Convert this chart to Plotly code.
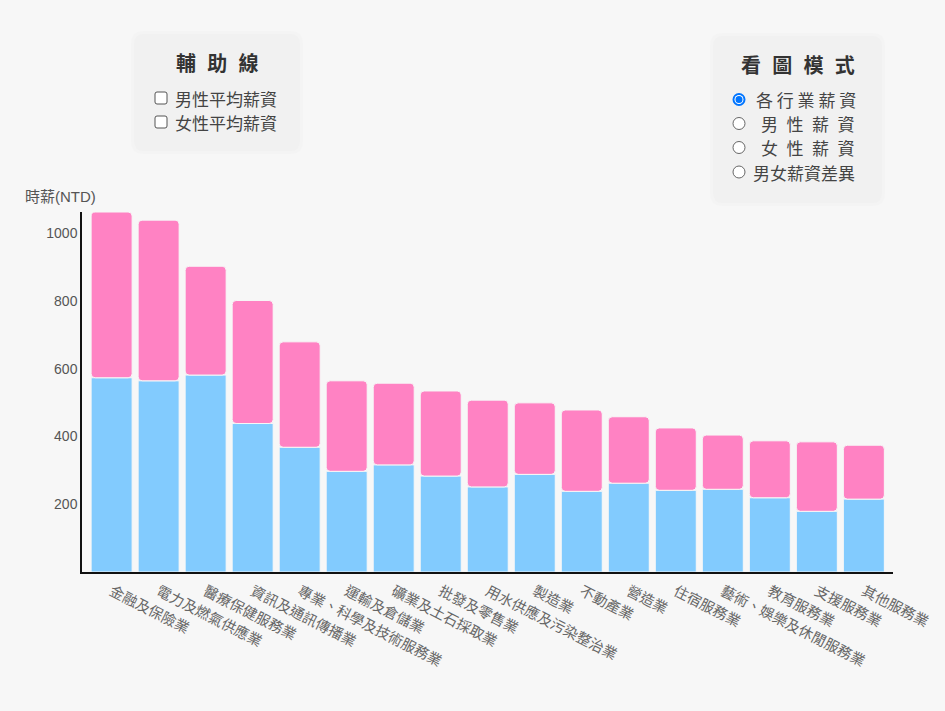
import plotly.graph_objects as go

# hourly wage by industry (NTD) - blue segment from 0, pink segment stacked on top
industries = [
    "金融及保險業", "電力及燃氣供應業", "醫療保健服務業", "資訊及通訊傳播業",
    "專業、科學及技術服務業", "運輸及倉儲業", "礦業及土石採取業", "批發及零售業",
    "用水供應及污染整治業", "製造業", "不動產業", "營造業", "住宿服務業",
    "藝術、娛樂及休閒服務業", "教育服務業", "支援服務業", "其他服務業",
]
blue_wage = [573, 564, 581, 438, 368, 297, 316, 283, 251, 288, 238, 262, 241, 244, 219, 179, 215]
pink_wage = [489, 474, 321, 363, 311, 267, 241, 251, 256, 211, 240, 196, 184, 160, 168, 205, 159]
y_ticks = [200, 400, 600, 800, 1000]

BLUE = "#82cbfe"
PINK = "#ff82c3"
BG = "#f7f7f7"
FONT = "Noto Sans CJK TC, Noto Sans, sans-serif"
NUM_FONT = "Liberation Sans, Noto Sans CJK TC, sans-serif"

# plot-area pixel box, used to place the html-like control panels
PL, PR, PT, PB = 82, 893, 212, 572


def fx(px):
    return (px - PL) / (PR - PL)


def fy(py):
    return (PB - py) / (PB - PT)


def round_rect(x0, y0, x1, y1, r):
    rx, ry = r / (PR - PL), r / (PB - PT)
    a, b, c, d = fx(x0), fx(x1), fy(y1), fy(y0)  # left, right, bottom, top
    return (f"M {a+rx},{d} L {b-rx},{d} Q {b},{d} {b},{d-ry} L {b},{c+ry} "
            f"Q {b},{c} {b-rx},{c} L {a+rx},{c} Q {a},{c} {a},{c+ry} "
            f"L {a},{d-ry} Q {a},{d} {a+rx},{d} Z")


def circle(cx, cy, r, fill, line_color, line_w=1):
    return dict(type="circle", xref="paper", yref="paper",
                x0=fx(cx - r), x1=fx(cx + r), y0=fy(cy + r), y1=fy(cy - r),
                fillcolor=fill, line=dict(color=line_color, width=line_w))


fig = go.Figure()
fig.add_trace(go.Bar(
    x=industries, y=blue_wage, name="blue",
    marker=dict(color=BLUE, cornerradius=4, line=dict(color=BG, width=1)),
))
fig.add_trace(go.Bar(
    x=industries, y=pink_wage, base=blue_wage, name="pink",
    marker=dict(color=PINK, cornerradius=4, line=dict(color=BG, width=1)),
))

shapes = []
annotations = []

# panels
for (x0, y0, x1, y1) in [(134, 34, 300, 151), (713, 36, 882, 203)]:
    shapes.append(dict(type="path", xref="paper", yref="paper",
                       path=round_rect(x0 - 3, y0 - 3, x1 + 3, y1 + 3, 12),
                       fillcolor="rgba(0,0,0,0.012)", line=dict(width=0)))
    shapes.append(dict(type="path", xref="paper", yref="paper",
                       path=round_rect(x0, y0, x1, y1, 10),
                       fillcolor="#f1f1f1", line=dict(width=0)))

annotations.append(dict(xref="paper", yref="paper", x=fx(217.5), y=fy(63),
                        text="<b>輔\u2002\u200a助\u2002\u200a線</b>", showarrow=False,
                        xanchor="center", yanchor="middle",
                        font=dict(size=20, color="#333", family=FONT)))
annotations.append(dict(xref="paper", yref="paper", x=fx(798), y=fy(65),
                        text="<b>看\u2002\u200a圖\u2002\u200a模\u2002\u200a式</b>", showarrow=False,
                        xanchor="center", yanchor="middle",
                        font=dict(size=20, color="#333", family=FONT)))

# checkboxes
for cy, label in [(98, "男性平均薪資"), (122, "女性平均薪資")]:
    shapes.append(dict(type="path", xref="paper", yref="paper",
                       path=round_rect(155, cy - 6, 167, cy + 6, 2),
                       fillcolor="white", line=dict(color="#555", width=1)))
    annotations.append(dict(xref="paper", yref="paper", x=fx(173), y=fy(cy),
                            text=label, showarrow=False, xanchor="left", yanchor="middle",
                            font=dict(size=17, color="#444", family=FONT)))

# radios
radios = [(99.5, "各 行 業 薪 資", 754, True),
          (123.5, "男\u2002性\u2002薪\u2002資", 759, False),
          (147.5, "女\u2002性\u2002薪\u2002資", 759, False),
          (172, "男女薪資差異", 751, False)]
for cy, label, tx, checked in radios:
    if checked:
        shapes.append(circle(739, cy, 6.5, "#0075ff", "#0075ff", 0))
        shapes.append(circle(739, cy, 4.5, "white", "white", 0))
        shapes.append(circle(739, cy, 3.5, "#0075ff", "#0075ff", 0))
    else:
        shapes.append(circle(739, cy, 6, "white", "#666", 1))
    annotations.append(dict(xref="paper", yref="paper", x=fx(tx), y=fy(cy),
                            text=label, showarrow=False, xanchor="left", yanchor="middle",
                            font=dict(size=17, color="#444", family=FONT)))

# y-axis title
annotations.append(dict(xref="paper", yref="paper", x=fx(23), y=fy(197),
                        text="時薪(NTD)", showarrow=False, xanchor="left", yanchor="middle",
                        font=dict(size=15, color="#555", family=NUM_FONT)))

fig.update_layout(
    barmode="overlay", bargap=0.128, showlegend=False,
    width=945, height=711,
    margin=dict(l=PL, r=945 - PR, t=PT, b=711 - PB, pad=0),
    paper_bgcolor=BG, plot_bgcolor=BG,
    font=dict(family=FONT),
    shapes=shapes, annotations=annotations,
    xaxis=dict(range=[-0.63, 16.62], showline=True, linecolor="#111", linewidth=1.5,
               showgrid=False, ticks="", tickangle=27, ticklabelstandoff=4,
               tickfont=dict(size=14.5, color="#666", family=FONT)),
    yaxis=dict(range=[0, 1062], showline=True, linecolor="#111", linewidth=1.5,
               showgrid=False, zeroline=False, ticks="", tickvals=y_ticks,
               tickfont=dict(size=14, color="#555", family=NUM_FONT)),
)

fig.write_html("out.html", config={"displayModeBar": False},
               post_script="document.body.style.margin='0';"
                           "document.body.style.background='#f7f7f7';")
